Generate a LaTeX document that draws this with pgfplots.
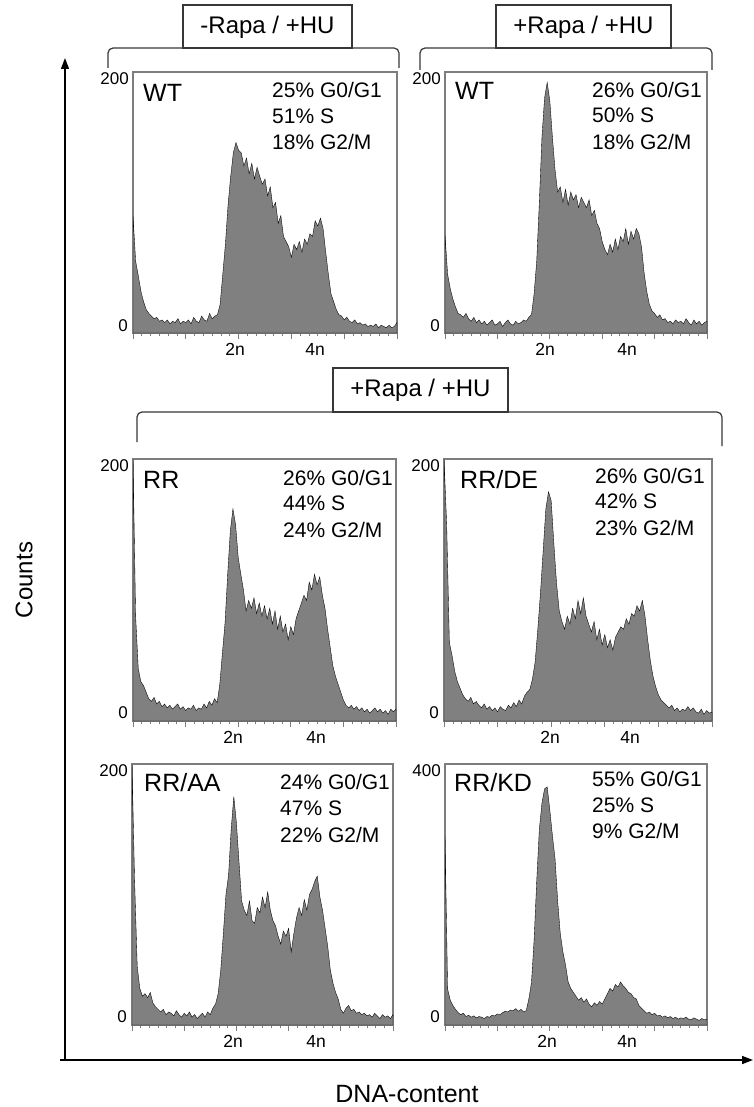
\documentclass[border=0pt]{standalone}
\usepackage{fontspec}
\setmainfont{Liberation Sans}
\usepackage{pgfplots}
\usepackage{pgfplotstable}
\pgfplotsset{compat=1.18}
\usetikzlibrary{arrows.meta}
\definecolor{histgray}{RGB}{128,128,128}
\definecolor{framegray}{RGB}{125,125,125}
\definecolor{brgray}{RGB}{55,55,55}
\newcommand{\fs}[1]{\fontsize{#1}{#1}\selectfont}

\pgfplotstableread{
u p1 p2 p3 p4 p5 p6
0 90 75 200 200 200 290
1 55 45 80 150 110 55
2 44 34 40 60 45 38
3 32 26 30 50 28 30
4 24 20 27 38 22 24
5 18 15 22 30 24 19
6 15 14 17 25 21 16
7 13 12 15 20 25 18
8 11 15 18 17 17 13
9 12 11 13 15 14 15
10 9 9 15 18 12 12
11 10 12 11 13 10 14
12 8 8 13 15 12 11
13 10 10 10 12 8 13
14 7 7 12 10 10 12
15 9 9 9 13 9 10
16 8 6 11 9 7 13
17 11 8 13 11 11 12
18 7 10 9 8 8 15
19 9 6 11 10 6 14
20 8 7 8 7 9 17
21 10 9 10 11 7 16
22 7 5 9 9 10 19
23 12 8 12 8 6 21
24 9 10 8 12 8 20
25 8 7 10 10 5 23
26 13 6 9 14 7 22
27 10 9 13 11 9 25
28 9 7 10 16 6 21
29 15 8 15 13 10 24
30 11 10 12 19 8 20
31 13 9 17 22 13 22
32 14 12 14 24 16 40
33 22 14 28 32 24 65
34 45 30 52 45 42 130
35 68 55 75 70 70 220
36 98 100 112 98 100 300
37 120 150 145 130 115 340
38 138 180 162 162 150 362
39 146 192 150 175 175 365
40 140 178 125 168 155 330
41 138 150 112 135 125 290
42 128 125 100 105 95 255
43 134 108 84 84 88 190
44 122 112 92 76 84 140
45 130 100 86 70 95 112
46 118 110 94 80 80 92
47 127 98 82 74 78 66
48 120 108 90 86 90 56
49 114 102 80 78 86 50
50 118 106 88 92 98 44
51 105 96 78 82 90 38
52 112 104 86 94 102 42
53 96 100 74 80 88 35
54 100 96 84 74 80 40
55 84 102 70 68 76 32
56 90 90 80 76 68 28
57 74 94 68 62 62 34
58 70 84 74 70 72 30
59 66 80 62 58 68 36
60 58 70 72 66 74 32
61 68 64 66 56 56 40
62 64 60 78 62 70 48
63 70 68 84 54 82 56
64 62 62 90 64 90 52
65 72 72 96 68 84 62
66 68 64 92 72 96 58
67 76 74 106 70 88 66
68 74 70 100 78 100 60
69 86 80 112 74 104 56
70 82 68 104 82 110 50
71 88 78 110 80 114 48
72 80 72 96 88 98 42
73 62 80 86 84 88 40
74 45 76 70 92 74 30
75 30 66 56 80 60 26
76 24 46 42 62 42 22
77 18 32 34 46 32 18
78 14 22 28 34 25 20
79 13 17 22 26 20 16
80 10 15 16 20 12 18
81 12 12 12 16 9 14
82 9 14 10 14 13 15
83 8 10 12 12 15 12
84 10 11 9 10 11 14
85 7 8 11 12 12 11
86 8 9 8 8 9 13
87 6 7 10 10 10 10
88 7 10 7 7 8 12
89 5 8 9 9 9 9
90 6 9 6 8 7 11
91 5 7 8 11 8 10
92 7 11 10 8 6 12
93 4 8 7 10 9 9
94 6 6 9 7 7 8
95 5 10 6 6 5 11
96 4 7 8 9 8 9
97 6 9 5 5 6 7
98 4 6 9 8 7 10
99 5 8 7 6 5 8
100 8 9 9 7 8 9
}\hist

\pgfplotsset{
  panel/.style={scale only axis, anchor=south west,
    xmin=0, xmax=100, ymin=0, ymax=200,
    axis line style={draw=framegray, line width=1.1pt},
    ytick=\empty,
    xtick={0,20,40,60,80,100}, xticklabels={}, minor x tick num=5,
    xtick pos=lower, tick align=outside,
    major tick length=6pt, minor tick length=3pt,
    tick style={draw=framegray, line width=0.8pt}},
  hist/.style={fill=histgray, draw=black, line width=0.35pt}
}

\begin{document}
\begin{tikzpicture}[x=1pt,y=1pt]
\path[use as bounding box] (0,0) rectangle (753,-1107);

% panels
\begin{axis}[panel, at={(133pt,-333pt)}, width=264pt, height=261pt]
\addplot[hist] table[x=u, y=p1] {\hist} \closedcycle;
\end{axis}
\begin{axis}[panel, at={(445pt,-333pt)}, width=262pt, height=261pt]
\addplot[hist] table[x=u, y=p2] {\hist} \closedcycle;
\end{axis}
\begin{axis}[panel, at={(133pt,-721pt)}, width=263pt, height=262pt]
\addplot[hist] table[x=u, y=p3] {\hist} \closedcycle;
\end{axis}
\begin{axis}[panel, at={(444pt,-721pt)}, width=268pt, height=262pt]
\addplot[hist] table[x=u, y=p4] {\hist} \closedcycle;
\end{axis}
\begin{axis}[panel, at={(132pt,-1025pt)}, width=261pt, height=261pt]
\addplot[hist] table[x=u, y=p5] {\hist} \closedcycle;
\end{axis}
\begin{axis}[panel, at={(445pt,-1025pt)}, width=262pt, height=261pt, ymax=400]
\addplot[hist] table[x=u, y=p6] {\hist} \closedcycle;
\end{axis}

% y tick labels
\tikzset{ylab/.style={inner sep=0pt, font=\fs{17}}}
\node[ylab, anchor=north east] at (129,-72) {200};
\node[ylab, anchor=south east] at (128,-332) {0};
\node[ylab, anchor=north east] at (441,-72) {200};
\node[ylab, anchor=south east] at (440,-332) {0};
\node[ylab, anchor=north east] at (129,-459) {200};
\node[ylab, anchor=south east] at (128,-719) {0};
\node[ylab, anchor=north east] at (440,-459) {200};
\node[ylab, anchor=south east] at (439,-719) {0};
\node[ylab, anchor=north east] at (128,-764) {200};
\node[ylab, anchor=south east] at (127,-1023) {0};
\node[ylab, anchor=north east] at (441,-764) {400};
\node[ylab, anchor=south east] at (440,-1023) {0};

% x tick labels
\tikzset{xlab/.style={inner sep=0pt, anchor=north, font=\fs{17.5}}}
\node[xlab] at (235,-343) {2n};
\node[xlab] at (315,-343) {4n};
\node[xlab] at (545,-343) {2n};
\node[xlab] at (627,-343) {4n};
\node[xlab] at (233,-731) {2n};
\node[xlab] at (316,-731) {4n};
\node[xlab] at (550,-731) {2n};
\node[xlab] at (630,-731) {4n};
\node[xlab] at (233,-1035) {2n};
\node[xlab] at (316,-1035) {4n};
\node[xlab] at (547,-1035) {2n};
\node[xlab] at (627,-1035) {4n};

% panel names
\tikzset{nm/.style={inner sep=0pt, anchor=base west, font=\fs{25}},
         pc/.style={inner sep=0pt, anchor=base west, font=\fs{21}}}
\node[nm] at (143,-102) {WT};
\node[pc] at (272,-98) {25\% G0/G1};
\node[pc] at (272,-124) {51\% S};
\node[pc] at (272,-150) {18\% G2/M};

\node[nm] at (455,-100) {WT};
\node[pc] at (592,-98) {26\% G0/G1};
\node[pc] at (592,-123) {50\% S};
\node[pc] at (592,-150) {18\% G2/M};

\node[nm] at (143,-488) {RR};
\node[pc] at (283,-485) {26\% G0/G1};
\node[pc] at (283,-510) {44\% S};
\node[pc] at (283,-537) {24\% G2/M};

\node[nm] at (460,-488) {RR/DE};
\node[pc] at (595,-483) {26\% G0/G1};
\node[pc] at (595,-508) {42\% S};
\node[pc] at (595,-535) {23\% G2/M};

\node[nm] at (144,-791) {RR/AA};
\node[pc] at (280,-789) {24\% G0/G1};
\node[pc] at (280,-815) {47\% S};
\node[pc] at (280,-842) {22\% G2/M};

\node[nm] at (454,-791) {RR/KD};
\node[pc] at (592,-786) {55\% G0/G1};
\node[pc] at (592,-812) {25\% S};
\node[pc] at (592,-838) {9\% G2/M};

% group titles and brackets
\draw[brgray, line width=1.2pt, rounded corners=5pt] (108,-68) -- (108,-48) -- (399,-48) -- (399,-68);
\draw[brgray, line width=1.2pt, fill=white] (183,-5) rectangle (352,-48);
\node[font=\fs{24}] at (267.5,-27) {-Rapa / +HU};

\draw[brgray, line width=1.2pt, rounded corners=5pt] (420,-70) -- (420,-48) -- (712,-48) -- (712,-70);
\draw[brgray, line width=1.2pt, fill=white] (496,-5) rectangle (671,-48);
\node[font=\fs{24}] at (583.5,-27) {+Rapa / +HU};

\draw[brgray, line width=1.2pt, rounded corners=5pt] (137,-442) -- (137,-412) -- (722,-412) -- (722,-446);
\draw[brgray, line width=1.2pt, fill=white] (333,-368) rectangle (508,-412);
\node[font=\fs{24}] at (420.5,-390) {+Rapa / +HU};

% big axes
\draw[black, line width=1.5pt, -{Triangle[length=11pt, width=8pt]}] (65,-1060) -- (65,-58);
\draw[black, line width=1.5pt, -{Triangle[length=11pt, width=8pt]}] (60,-1060) -- (753,-1060);
\node[rotate=90, font=\fs{24}] at (24,-580) {Counts};
\node[font=\fs{25}] at (407,-1094) {DNA-content};
\end{tikzpicture}
\end{document}
